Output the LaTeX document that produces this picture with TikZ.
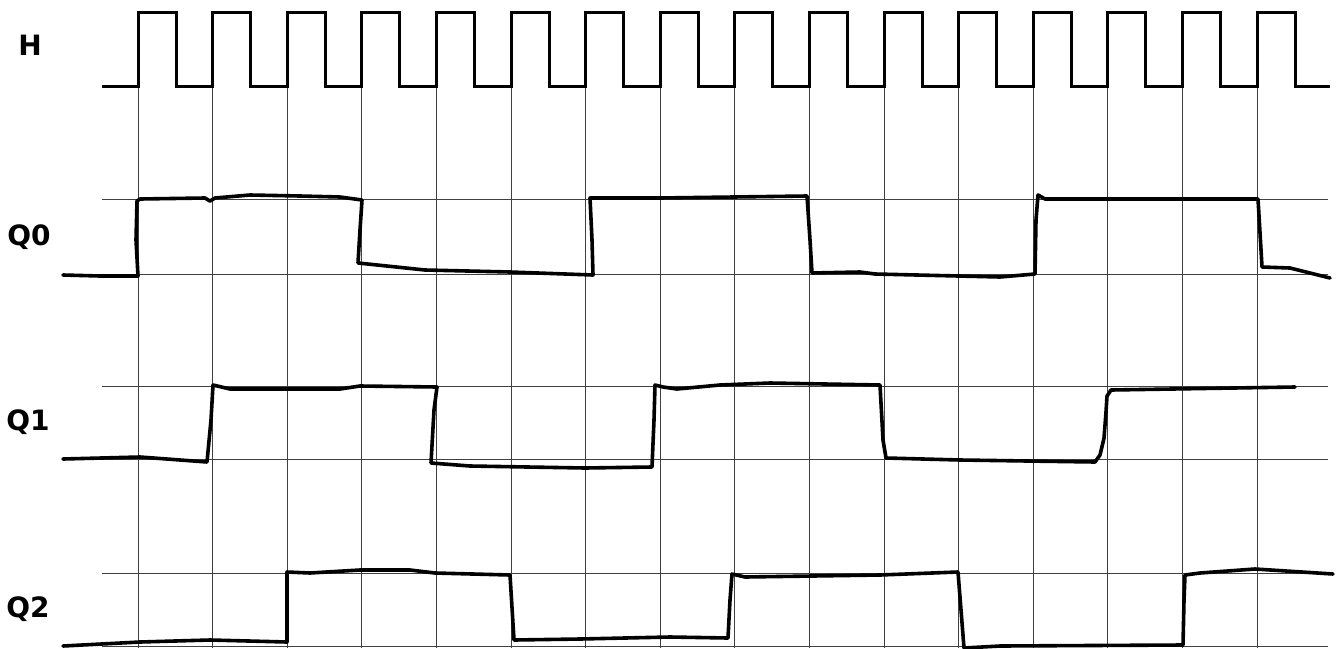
\documentclass[tikz,border=0pt]{standalone}
\usepackage{fontspec}
\newfontfamily\lblfont{DejaVu Sans}
\begin{document}
\begin{tikzpicture}[x=0.5pt,y=-0.5pt,
  gridline/.style={draw=black!75,line width=0.45pt},
  clock/.style={draw=black,line width=1.5pt,line join=miter},
  sig/.style={draw=black,line width=1.8pt,line join=round,line cap=round},
  lbl/.style={font=\lblfont\bfseries\fontsize{14}{16}\selectfont,inner sep=0pt}]
\useasboundingbox (0,0) rectangle (1337,648);
\fill[white] (0,0) rectangle (1337,648);
% grid
\foreach \k in {0,...,15}
  \draw[gridline] ({138+74.6*\k},86) -- ({138+74.6*\k},648);
\foreach \yy in {199,274,386,459,573,646}
  \draw[gridline] (102,\yy) -- (1328,\yy);
% clock H
\draw[clock] (102,86)
  \foreach \k in {0,...,15} {
    -- ({138+74.6*\k},86) -- ({138+74.6*\k},12)
    -- ({176+74.6*\k},12) -- ({176+74.6*\k},86)
  } -- (1330,86);
% Q0
\draw[sig] (63,275) -- (100,276) -- (138,276) -- (136,240) -- (137,201) -- (140,199)
  -- (205,198) -- (210,201) -- (215,198) -- (250,195) -- (300,196) -- (340,197) -- (362,200)
  -- (360,230) -- (358,263) -- (425,270) -- (510,272) -- (593,275) -- (592,240) -- (590,198)
  -- (660,198) -- (807,196) -- (810,240) -- (812,273) -- (860,272) -- (875,274) -- (1000,277)
  -- (1035,274) -- (1036,220) -- (1038,195) -- (1045,199) -- (1258,199) -- (1262,267)
  -- (1290,268) -- (1330,278);
% Q1
\draw[sig] (63,459) -- (140,457) -- (207,462) -- (211,420) -- (213,385) -- (230,389)
  -- (340,389) -- (360,386) -- (437,387) -- (434,410) -- (431,463) -- (470,466) -- (585,468)
  -- (652,467) -- (654,420) -- (655,385) -- (663,387) -- (677,389) -- (720,385) -- (770,383)
  -- (880,385) -- (883,440) -- (886,458) -- (960,460) -- (1095,462)
  -- (1100,455) -- (1104,438) -- (1106,412) -- (1107,396) -- (1111,390) -- (1295,387);
% Q2
\draw[sig] (63,646) -- (140,642) -- (210,640) -- (287,642) -- (287,572) -- (310,573)
  -- (360,570) -- (410,570) -- (435,573) -- (510,575) -- (514,640) -- (580,639) -- (670,637)
  -- (728,638) -- (730,600) -- (732,574) -- (745,577) -- (880,575) -- (958,572) -- (961,610)
  -- (964,648) -- (1000,646) -- (1183,645) -- (1184,600) -- (1185,575) -- (1200,573)
  -- (1255,569) -- (1333,574);
% labels
\node[lbl] (labH)  at (30,45)  {H};
\node[lbl] (labQ0) at (29,237) {Q0};
\node[lbl] (labQ1) at (28,422) {Q1};
\node[lbl] (labQ2) at (28,609) {Q2};
\end{tikzpicture}
\end{document}
